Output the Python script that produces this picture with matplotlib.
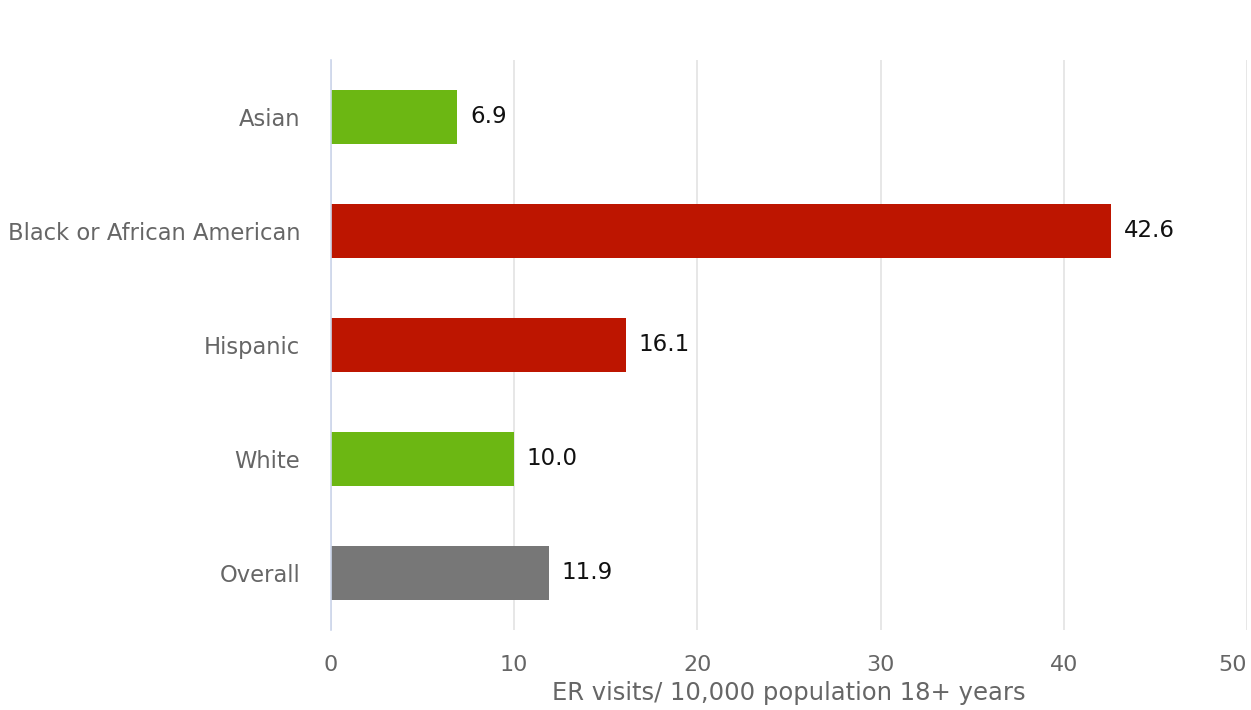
import matplotlib
matplotlib.use("Agg")
import matplotlib.pyplot as plt

# data
groups = ["Asian", "Black or African American", "Hispanic", "White", "Overall"]
rates = [6.9, 42.6, 16.1, 10.0, 11.9]
bar_colors = ["#6cb713", "#bd1500", "#bd1500", "#6cb713", "#777777"]
xticks = [0, 10, 20, 30, 40, 50]

plt.rcParams["font.family"] = "DejaVu Sans"

fig = plt.figure(figsize=(12.51, 7.10), dpi=100)
ax = fig.add_axes([0.2646, 0.1127, 0.7322, 0.8028])

ypos = list(range(len(groups)))
ax.barh(ypos, rates, height=0.47, color=bar_colors, zorder=3)

# value labels to the right of each bar
for y, v in zip(ypos, rates):
    ax.annotate(f"{v:.1f}", xy=(v, y), xytext=(9, 0), textcoords="offset points",
                va="center", ha="left", fontsize=16.5, color="#111111")

ax.set_xlim(0, 50)
ax.set_ylim(len(groups) - 0.5, -0.5)
ax.set_yticks(ypos)
ax.set_yticklabels(groups)
ax.set_xticks(xticks)

ax.grid(axis="x", color="#e3e3e3", linewidth=1.2, zorder=0)
for s in ["top", "right", "bottom"]:
    ax.spines[s].set_visible(False)
ax.spines["left"].set_color("#ccd6eb")
ax.spines["left"].set_linewidth(1.2)
ax.spines["left"].set_zorder(4)

ax.tick_params(axis="y", length=0, pad=22, labelsize=16.3, labelcolor="#666666")
ax.tick_params(axis="x", length=0, pad=18, labelsize=16, labelcolor="#666666")
# last tick label is pulled inside the figure like in the reference
ax.get_xticklabels()[-1].set_ha("right")

ax.set_xlabel("ER visits/ 10,000 population 18+ years", fontsize=17.5,
              color="#666666", labelpad=4)

fig.savefig("out.png", dpi=100)
